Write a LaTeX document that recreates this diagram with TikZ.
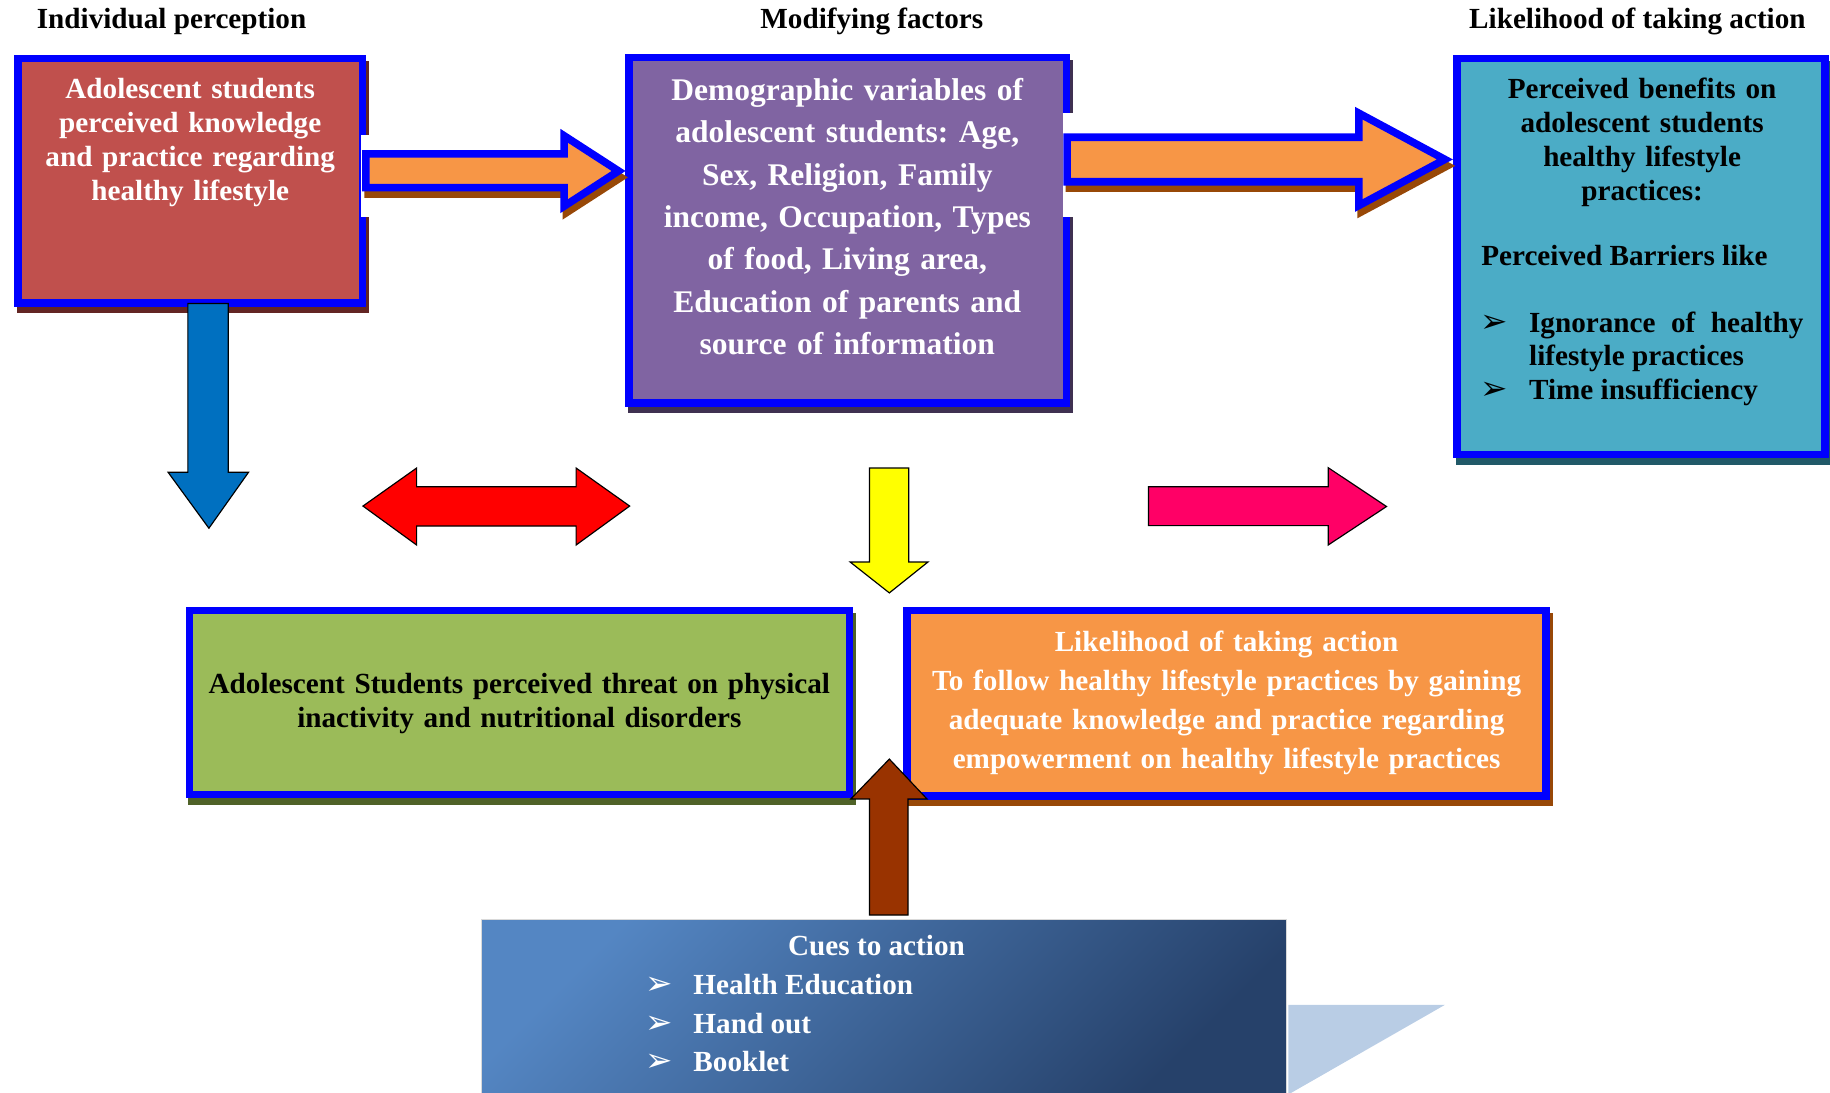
\documentclass[tikz,border=0pt]{standalone}
\usepackage{fontspec}
\setmainfont{Liberation Serif}
\newfontfamily\dingfont{DejaVu Sans}
\frenchspacing
\definecolor{bordblue}{HTML}{0000FF}
\definecolor{redfill}{HTML}{C0504D}
\definecolor{redshadow}{HTML}{632523}
\definecolor{purplefill}{HTML}{8064A2}
\definecolor{purpleshadow}{HTML}{3F3151}
\definecolor{tealfill}{HTML}{4BACC6}
\definecolor{tealshadow}{HTML}{215968}
\definecolor{greenfill}{HTML}{9BBB59}
\definecolor{greenshadow}{HTML}{4F6228}
\definecolor{orangefill}{HTML}{F79646}
\definecolor{orangeshadow}{HTML}{984807}
\definecolor{arrblue}{HTML}{0070C0}
\definecolor{arrred}{HTML}{FF0000}
\definecolor{arryellow}{HTML}{FFFF00}
\definecolor{arrpink}{HTML}{FF0066}
\definecolor{arrbrown}{HTML}{993300}
\definecolor{cuelight}{HTML}{5486C3}
\definecolor{cuedark}{HTML}{26416A}
\definecolor{trifill}{HTML}{B9CDE5}
\pgfdeclarelayer{shadowlayer}
\pgfsetlayers{shadowlayer,main}
\tikzset{
  box/.style={draw=bordblue, line width=6.5pt, inner sep=0pt},
  lbl/.style={inner sep=0pt, font=\bfseries\fontsize{25}{29}\selectfont},
  blk/.style={lbl, align=center, text width=#1, anchor=base},
  blt/.style={inner sep=0pt, font=\dingfont\fontsize{28}{28}\selectfont, anchor=base west},
  fatarrow/.style={draw=bordblue, fill=orangefill, line width=6.5pt, line join=miter},
  fatshadow/.style={draw=orangeshadow, fill=orangeshadow, line width=6.5pt, line join=miter},
  thinarrow/.style={draw=black, line width=1pt, line join=miter},
}
\begin{document}
\begin{tikzpicture}[x=1pt,y=-1pt]
\useasboundingbox (0,0) rectangle (1568,936);
\clip (0,0) rectangle (1568,936);

% titles
\node[lbl, anchor=base] (t1) at (147,24.5) {Individual perception};
\node[lbl, anchor=base] (t2) at (747,24.5) {Modifying factors};
\node[lbl, anchor=base] (t3) at (1403,24.5) {Likelihood of taking action};

% boxes
\node[box, fill=redfill, minimum width=295.5pt, minimum height=209.5pt] (red) at (163,155) {};
\node[box, fill=purplefill, minimum width=375pt, minimum height=296pt] (purple) at (726.25,197.25) {};
\node[box, fill=tealfill, minimum width=315.5pt, minimum height=339pt] (teal) at (1406,219.75) {};
\node[box, fill=greenfill, minimum width=565.5pt, minimum height=157.5pt] (green) at (445,602) {};
\node[box, fill=orangefill, minimum width=547.5pt, minimum height=159pt] (orange) at (1051,602.75) {};

\begin{pgfonlayer}{shadowlayer}
\foreach \n/\c in {red/redshadow, purple/purpleshadow, teal/tealshadow, green/greenshadow, orange/orangeshadow}
  \fill[\c] ([shift={(2.5pt,-5.5pt)}]\n.north west) rectangle ([shift={(2.5pt,-5.5pt)}]\n.south east);
\end{pgfonlayer}

% cues box and triangle
\node[draw=white!85!black, line width=1pt, top color=cuelight, bottom color=cuedark, shading angle=45,
      minimum width=689.5pt, minimum height=150pt, inner sep=0pt] (cues) at (757.25,862.5) {};
\fill[trifill] (1104,861) -- (1238,861) -- (1100,940) -- (1104,940) -- cycle;

% white gaps where the fat arrows leave the boxes
\fill[white] (309.5,115.7) rectangle (320,185.7);
\fill[white] (910.5,96.5) rectangle (922,185.7);

% fat arrow red -> purple
\begin{scope}[shift={(2,5.5)}]
\path[fatshadow] (313.5,131.8) -- (483.3,131.8) -- (483.3,116.3) -- (530,146.5) -- (483.3,176.7) -- (483.3,160.7) -- (313.5,160.7) -- cycle;
\end{scope}
\path[fatarrow] (313.5,131.8) -- (483.3,131.8) -- (483.3,116.3) -- (530,146.5) -- (483.3,176.7) -- (483.3,160.7) -- (313.5,160.7) -- cycle;

% fat arrow purple -> teal
\begin{scope}[shift={(2,5.5)}]
\path[fatshadow] (914.3,117.6) -- (1164.3,117.6) -- (1164.3,97) -- (1238,136.6) -- (1164.3,176.1) -- (1164.3,155.7) -- (914.3,155.7) -- cycle;
\end{scope}
\path[fatarrow] (914.3,117.6) -- (1164.3,117.6) -- (1164.3,97) -- (1238,136.6) -- (1164.3,176.1) -- (1164.3,155.7) -- (914.3,155.7) -- cycle;

% middle row arrows
\path[thinarrow, fill=arrblue] (161,260) -- (195.6,260) -- (195.6,404.6) -- (213,404.6) -- (179,452.6) -- (144,404.6) -- (161,404.6) -- cycle;
\path[thinarrow, fill=arrred] (311,433.6) -- (357,401) -- (357,417) -- (493.6,417) -- (493.6,401) -- (539.5,433.6) -- (493.6,467) -- (493.6,450.7) -- (357,450.7) -- (357,467) -- cycle;
\path[thinarrow, fill=arryellow] (745,401) -- (778.6,401) -- (778.6,481.6) -- (795,481.6) -- (762,508) -- (728.5,481.6) -- (745,481.6) -- cycle;
\path[thinarrow, fill=arrpink] (984,417) -- (1138,417) -- (1138,400.7) -- (1188,434) -- (1138,467) -- (1138,450.4) -- (984,450.4) -- cycle;
\path[thinarrow, fill=arrbrown] (745,784) -- (778,784) -- (778,684.6) -- (794.3,684.6) -- (762,650.4) -- (729,684.6) -- (745,684.6) -- cycle;

% texts
\node[blk=300pt, text=white] (redtxt) at (163,84.5) {Adolescent students\\perceived knowledge\\and practice regarding\\healthy lifestyle};
\node[blk=380pt, text=white, font=\bfseries\fontsize{27}{36.3}\selectfont] (purtxt) at (726,86)
  {Demographic variables of\\adolescent students: Age,\\Sex, Religion, Family\\income, Occupation, Types\\of food, Living area,\\Education of parents and\\source of information};
\node[blk=320pt] (tealtxt) at (1407,84.5) {Perceived benefits on\\adolescent students\\healthy lifestyle\\practices:};
\node[lbl, anchor=base west] (barr) at (1269,227.5) {Perceived Barriers like};
\node[blt] (tb1) at (1268,284.5) {➢};
\node[lbl, anchor=base west] (ign) at (1310,284.5) {\hbox to 235pt{Ignorance\hfill of\hfill healthy}};
\node[lbl, anchor=base west] (lp) at (1310,313.5) {lifestyle practices};
\node[blt] (tb2) at (1268,342.5) {➢};
\node[lbl, anchor=base west] (tim) at (1310,342.5) {Time insufficiency};

\node[blk=570pt] (grtxt) at (445,594.5) {Adolescent Students perceived threat on physical\\inactivity and nutritional disorders};
\node[blk=550pt, text=white, font=\bfseries\fontsize{25}{33.3}\selectfont] (ortxt) at (1051,558.5)
  {Likelihood of taking action\\To follow healthy lifestyle practices by gaining\\adequate knowledge and practice regarding\\empowerment on healthy lifestyle practices};

\node[lbl, anchor=base, text=white] (cuet) at (751,818.5) {Cues to action};
\node[blt, text=white] (cb1) at (553,852.5) {➢};
\node[lbl, anchor=base west, text=white] (c1) at (594,852.5) {Health Education};
\node[blt, text=white] (cb2) at (553,885.5) {➢};
\node[lbl, anchor=base west, text=white] (c2) at (594,885.5) {Hand out};
\node[blt, text=white] (cb3) at (553,918.5) {➢};
\node[lbl, anchor=base west, text=white] (c3) at (594,918.5) {Booklet};
\end{tikzpicture}
\end{document}
